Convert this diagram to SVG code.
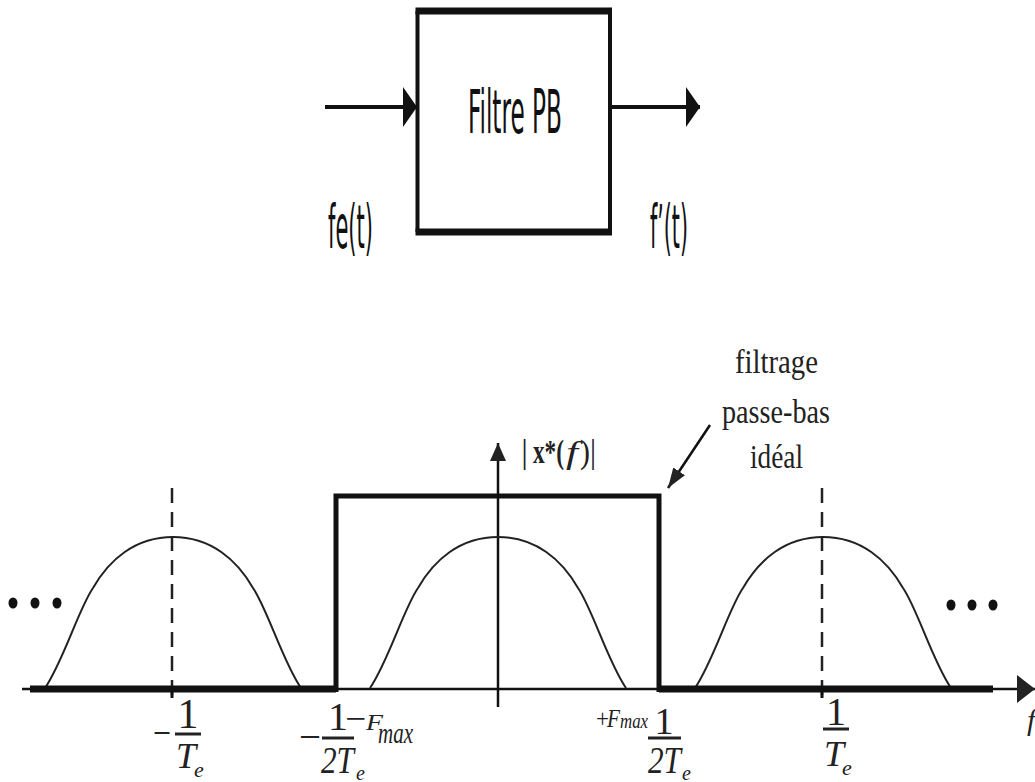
<svg xmlns="http://www.w3.org/2000/svg" width="1035" height="782" viewBox="0 0 1035 782">
  <style>
    .sans { font-family: "DejaVu Sans Condensed", "DejaVu Sans", sans-serif; font-size: 60px; fill: #111; }
    .serif { font-family: "Liberation Serif", "Times New Roman", serif; fill: #222; }
    .it { font-style: italic; }
    .ln { stroke: #111; fill: none; }
    .curve { stroke: #222; stroke-width: 2; fill: none; }
    .dash { stroke: #222; stroke-width: 2.5; stroke-dasharray: 15 9; fill: none; }
    .bar { stroke: #222; stroke-width: 3; }
    .dot { fill: #111; }
  </style>
  <defs>
    <marker id="headTall" markerUnits="userSpaceOnUse" markerWidth="14" markerHeight="40" refX="14" refY="20" orient="auto">
      <path d="M0,0 L14,20 L0,40 z" fill="#111"/>
    </marker>
    <marker id="headAxisV" markerUnits="userSpaceOnUse" markerWidth="18" markerHeight="16" refX="18" refY="8" orient="auto">
      <path d="M0,0 L18,8 L0,16 z" fill="#222"/>
    </marker>
    <marker id="headAxisH" markerUnits="userSpaceOnUse" markerWidth="18" markerHeight="28" refX="18" refY="14" orient="auto">
      <path d="M0,0 L18,14 L0,28 z" fill="#222"/>
    </marker>
    <marker id="headNote" markerUnits="userSpaceOnUse" markerWidth="20" markerHeight="14" refX="20" refY="7" orient="auto">
      <path d="M0,0 L20,7 L0,14 z" fill="#222"/>
    </marker>
    <path id="bell" d="M -128,688 C -110,662 -94,608 -80,588 C -64,560 -38,537 0,537 C 38,537 64,560 80,588 C 94,608 110,662 128,688"/>
  </defs>

  <!-- Top block -->
  <g id="filtre-pb">
    <line class="ln" x1="417.5" y1="11" x2="417.5" y2="232" stroke-width="4"/>
    <line class="ln" x1="610" y1="11" x2="610" y2="232" stroke-width="4"/>
    <line class="ln" x1="415.5" y1="11" x2="612" y2="11" stroke-width="7"/>
    <line class="ln" x1="415.5" y1="232" x2="612" y2="232" stroke-width="7"/>
    <text class="sans" x="468" y="133" textLength="94" lengthAdjust="spacingAndGlyphs">Filtre PB</text>
  </g>
  <g id="label-fe">
    <text class="sans" x="328" y="248" textLength="45" lengthAdjust="spacingAndGlyphs">fe(t)</text>
  </g>
  <g id="label-fprime">
    <text class="sans" x="650" y="248" textLength="38" lengthAdjust="spacingAndGlyphs">f’(t)</text>
  </g>

  <g id="connectors">
    <line class="ln" x1="325" y1="107" x2="417" y2="107" stroke-width="4" marker-end="url(#headTall)"/>
    <line class="ln" x1="610" y1="107" x2="700" y2="107" stroke-width="4" marker-end="url(#headTall)"/>
    <line class="ln" x1="710" y1="425" x2="668" y2="488" stroke-width="2.5" stroke="#222" marker-end="url(#headNote)"/>
  </g>

  <!-- Spectrum plot -->
  <g id="axes">
    <line class="ln" x1="22" y1="689" x2="1035" y2="689" stroke-width="2.5" stroke="#222" marker-end="url(#headAxisH)"/>
    <line class="ln" x1="498" y1="707" x2="498" y2="443" stroke-width="2.5" stroke="#222" marker-end="url(#headAxisV)"/>
    <text class="serif it" x="1027" y="730" font-size="30">f</text>
  </g>

  <g id="spectrum">
    <use href="#bell" class="curve" transform="translate(173,0)"/>
    <use href="#bell" class="curve" transform="translate(498,0)"/>
    <use href="#bell" class="curve" transform="translate(823,0)"/>
    <line class="dash" x1="172" y1="488" x2="172" y2="697"/>
    <line class="dash" x1="822" y1="488" x2="822" y2="697"/>
    <line class="ln" x1="172" y1="689" x2="172" y2="698" stroke-width="3"/>
    <line class="ln" x1="822" y1="689" x2="822" y2="698" stroke-width="3"/>
  </g>

  <g id="filter-response">
    <line class="ln" x1="30" y1="689" x2="336" y2="689" stroke-width="7" stroke="#1a1a1a"/>
    <line class="ln" x1="659" y1="689" x2="993" y2="689" stroke-width="7" stroke="#1a1a1a"/>
    <path class="ln" d="M336,692 V496 H659 V692" stroke-width="5" stroke="#1a1a1a" stroke-linejoin="miter"/>
  </g>

  <g id="dots-left">
    <ellipse class="dot" cx="13" cy="603" rx="4.5" ry="5.5"/>
    <ellipse class="dot" cx="35" cy="603" rx="4.5" ry="5.5"/>
    <ellipse class="dot" cx="57" cy="603" rx="4.5" ry="5.5"/>
  </g>
  <g id="dots-right">
    <ellipse class="dot" cx="951" cy="605" rx="4.5" ry="5.5"/>
    <ellipse class="dot" cx="972" cy="605" rx="4.5" ry="5.5"/>
    <ellipse class="dot" cx="993" cy="605" rx="4.5" ry="5.5"/>
  </g>

  <g id="label-xf">
    <text class="serif" x="522" y="463" font-size="34" textLength="42" lengthAdjust="spacingAndGlyphs" font-weight="bold">| x*(</text>
    <text class="serif it" x="566" y="463" font-size="32" textLength="12" lengthAdjust="spacingAndGlyphs">f</text>
    <text class="serif" x="580" y="463" font-size="34" textLength="16" lengthAdjust="spacingAndGlyphs">)|</text>
  </g>

  <g id="label-filtrage">
    <text class="serif" x="735" y="373" font-size="34" textLength="83" lengthAdjust="spacingAndGlyphs">filtrage</text>
    <text class="serif" x="722" y="423" font-size="34" textLength="108" lengthAdjust="spacingAndGlyphs">passe-bas</text>
    <text class="serif" x="750" y="468" font-size="34" textLength="53" lengthAdjust="spacingAndGlyphs">idéal</text>
  </g>

  <!-- tick labels -->
  <g id="tick-minus-1-Te">
    <text class="serif" x="153" y="746" font-size="40" textLength="18" lengthAdjust="spacingAndGlyphs">−</text>
    <text class="serif" x="188" y="728" font-size="42" text-anchor="middle">1</text>
    <line class="bar" x1="175" y1="734" x2="201" y2="734"/>
    <text class="serif it" x="176" y="768" font-size="36">T</text>
    <text class="serif it" x="194" y="777" font-size="22">e</text>
  </g>

  <g id="tick-minus-1-2Te-Fmax">
    <text class="serif" x="299" y="750" font-size="40" textLength="22" lengthAdjust="spacingAndGlyphs">−</text>
    <text class="serif" x="338" y="730" font-size="40" text-anchor="middle">1</text>
    <line class="bar" x1="322" y1="738" x2="354" y2="738"/>
    <text class="serif it" x="321" y="773" font-size="38" textLength="33" lengthAdjust="spacingAndGlyphs">2T</text>
    <text class="serif it" x="356" y="780" font-size="20">e</text>
    <text class="serif" x="345" y="730" font-size="34" textLength="21" lengthAdjust="spacingAndGlyphs">−</text>
    <text class="serif it" x="366" y="730" font-size="24" textLength="17" lengthAdjust="spacingAndGlyphs">F</text>
    <text class="serif it" x="378" y="743" font-size="30" textLength="35" lengthAdjust="spacingAndGlyphs">max</text>
  </g>

  <g id="tick-plus-Fmax-1-2Te">
    <text class="serif" x="596" y="727" font-size="26" textLength="13" lengthAdjust="spacingAndGlyphs">+</text>
    <text class="serif it" x="607" y="727" font-size="26" textLength="13" lengthAdjust="spacingAndGlyphs">F</text>
    <text class="serif it" x="620" y="728" font-size="20" textLength="28" lengthAdjust="spacingAndGlyphs">max</text>
    <text class="serif" x="664" y="734" font-size="38" text-anchor="middle">1</text>
    <line class="bar" x1="648" y1="738" x2="681" y2="738"/>
    <text class="serif it" x="648" y="773" font-size="38" textLength="33" lengthAdjust="spacingAndGlyphs">2T</text>
    <text class="serif it" x="682" y="780" font-size="20">e</text>
  </g>

  <g id="tick-1-Te">
    <text class="serif" x="836" y="725" font-size="40" text-anchor="middle">1</text>
    <line class="bar" x1="823" y1="729" x2="849" y2="729"/>
    <text class="serif it" x="824" y="766" font-size="36">T</text>
    <text class="serif it" x="842" y="775" font-size="22">e</text>
  </g>
</svg>
